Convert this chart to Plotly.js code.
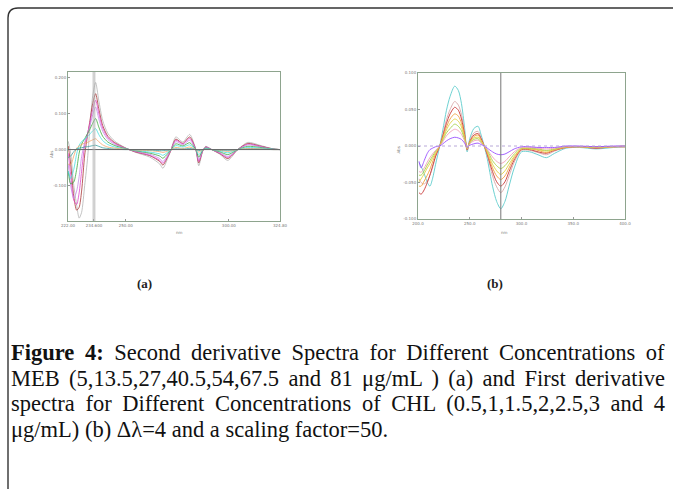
<!DOCTYPE html>
<html>
<head>
<meta charset="utf-8">
<script src="https://cdn.plot.ly/plotly-3.0.1.min.js"></script>
<style>
html,body{margin:0;padding:0;background:#fff;}
#plot{width:673px;height:489px;}
</style>
</head>
<body>
<div id="plot"></div>
<script>
// ---------- Panel (a): second derivative spectra of MEB ----------
const waveA = [222.1, 223.3, 224.8, 226.2, 227.4, 228.6, 230.1, 231.5, 232.5, 234.0, 235.4, 236.9, 238.8, 241.3, 244.7, 249.5, 254.4, 261.7, 266.5, 268.0, 270.4, 271.9, 274.3, 277.7, 281.0, 284.0, 285.4, 287.3, 288.8, 291.7, 295.6, 299.5, 304.3, 309.2, 315.0, 321.4, 324.8];
const curveA1 = [0.023, -0.010, -0.099, -0.154, -0.190, -0.174, -0.099, -0.024, 0.053, 0.150, 0.186, 0.137, 0.081, 0.045, 0.023, 0.006, -0.007, -0.021, -0.040, -0.052, -0.024, -0.002, 0.035, 0.021, 0.042, 0.000, -0.045, -0.005, 0.009, 0.000, -0.013, -0.030, 0.000, 0.020, 0.012, 0.002, 0.000];
const curveA2 = [0.010, -0.040, -0.130, -0.168, -0.160, -0.115, -0.015, 0.040, 0.075, 0.128, 0.155, 0.114, 0.067, 0.037, 0.019, 0.005, -0.006, -0.017, -0.033, -0.043, -0.020, -0.002, 0.029, 0.017, 0.035, 0.000, -0.037, -0.004, 0.007, 0.000, -0.011, -0.025, 0.000, 0.017, 0.010, 0.002, 0.000];
const curveA3 = [-0.010, -0.070, -0.140, -0.152, -0.120, -0.060, 0.012, 0.045, 0.070, 0.112, 0.137, 0.101, 0.060, 0.033, 0.017, 0.004, -0.005, -0.016, -0.030, -0.038, -0.018, -0.001, 0.026, 0.016, 0.031, 0.000, -0.033, -0.004, 0.007, 0.000, -0.010, -0.022, 0.000, 0.015, 0.009, 0.001, 0.000];
const curveA4 = [-0.040, -0.100, -0.135, -0.115, -0.075, -0.020, 0.020, 0.045, 0.062, 0.097, 0.118, 0.086, 0.051, 0.028, 0.014, 0.004, -0.004, -0.013, -0.025, -0.033, -0.015, -0.001, 0.022, 0.013, 0.026, 0.000, -0.028, -0.003, 0.006, 0.000, -0.008, -0.019, 0.000, 0.013, 0.008, 0.001, 0.000];
const curveA5 = [-0.060, -0.095, -0.090, -0.055, -0.010, 0.015, 0.030, 0.045, 0.055, 0.073, 0.086, 0.063, 0.037, 0.021, 0.011, 0.003, -0.003, -0.010, -0.018, -0.024, -0.011, -0.001, 0.016, 0.010, 0.019, 0.000, -0.021, -0.002, 0.004, 0.000, -0.006, -0.014, 0.000, 0.009, 0.006, 0.001, 0.000];
const curveA6 = [-0.060, -0.080, -0.055, -0.012, 0.012, 0.022, 0.030, 0.036, 0.042, 0.052, 0.058, 0.042, 0.025, 0.014, 0.007, 0.002, -0.002, -0.007, -0.012, -0.016, -0.007, -0.001, 0.011, 0.007, 0.013, 0.000, -0.014, -0.002, 0.003, 0.000, -0.004, -0.009, 0.000, 0.006, 0.004, 0.001, 0.000];
const curveA7 = [-0.040, -0.042, -0.018, 0.004, 0.010, 0.014, 0.018, 0.020, 0.023, 0.027, 0.030, 0.022, 0.013, 0.007, 0.004, 0.001, -0.001, -0.003, -0.006, -0.008, -0.004, 0.000, 0.006, 0.003, 0.007, 0.000, -0.007, -0.001, 0.001, 0.000, -0.002, -0.005, 0.000, 0.003, 0.002, 0.000, 0.000];
const curveA8 = [-0.022, -0.018, -0.006, 0.002, 0.004, 0.005, 0.007, 0.008, 0.009, 0.011, 0.012, 0.009, 0.005, 0.003, 0.001, 0.000, 0.000, -0.001, -0.003, -0.003, -0.002, 0.000, 0.002, 0.001, 0.003, 0.000, -0.003, 0.000, 0.001, 0.000, -0.001, -0.002, 0.000, 0.001, 0.001, 0.000, 0.000];
const colorsA = ['#b4b4b4', '#a83434', '#e046c8', '#c48ae6', '#3ea83e', '#46e0e0', '#f4a468', '#3aa0a0'];
const tickValsAx = [222, 234.6, 250, 300, 324.8];
const tickTextAx = ['222.00', '234.600', '250.00', '300.00', '324.80'];
const tickValsAy = [-0.2, -0.1, 0, 0.1, 0.2];
const tickTextAy = ['-0.200', '-0.100', '0.000', '0.100', '0.200'];
const cursorA = 234.6;

// ---------- Panel (b): first derivative spectra of CHL ----------
const waveB = [201, 203, 206, 209, 211.5, 214, 217, 221, 224, 227.5, 231, 235.5, 239, 242, 245, 247.5, 250, 254, 258, 261, 264, 267, 272, 276, 280, 284, 288, 293, 300, 308, 316, 324, 332, 343, 356, 372, 389, 400];
const curveB1 = [-0.023, -0.028, -0.038, -0.050, -0.055, -0.045, -0.025, 0.000, 0.022, 0.049, 0.068, 0.082, 0.076, 0.058, 0.025, -0.008, 0.010, 0.024, 0.027, 0.015, 0.000, -0.018, -0.055, -0.076, -0.086, -0.076, -0.055, -0.030, -0.008, -0.008, -0.012, -0.016, -0.010, -0.003, -0.002, -0.004, -0.002, -0.001];
const curveB2 = [-0.045, -0.050, -0.052, -0.048, -0.040, -0.030, -0.015, 0.000, 0.016, 0.036, 0.050, 0.061, 0.056, 0.043, 0.019, -0.006, 0.007, 0.018, 0.020, 0.011, 0.000, -0.013, -0.041, -0.056, -0.064, -0.056, -0.041, -0.022, -0.006, -0.006, -0.009, -0.012, -0.007, -0.002, -0.001, -0.003, -0.001, -0.001];
const curveB3 = [-0.064, -0.066, -0.060, -0.050, -0.040, -0.028, -0.014, 0.000, 0.014, 0.031, 0.044, 0.053, 0.049, 0.037, 0.016, -0.005, 0.006, 0.015, 0.017, 0.010, 0.000, -0.012, -0.035, -0.049, -0.055, -0.049, -0.035, -0.019, -0.005, -0.005, -0.008, -0.010, -0.006, -0.002, -0.001, -0.003, -0.001, -0.001];
const curveB4 = [-0.055, -0.055, -0.048, -0.040, -0.032, -0.022, -0.011, 0.000, 0.012, 0.026, 0.037, 0.044, 0.041, 0.031, 0.014, -0.004, 0.005, 0.013, 0.015, 0.008, 0.000, -0.010, -0.030, -0.041, -0.046, -0.041, -0.030, -0.016, -0.004, -0.004, -0.006, -0.009, -0.005, -0.002, -0.001, -0.002, -0.001, -0.001];
const curveB5 = [-0.049, -0.045, -0.038, -0.030, -0.024, -0.017, -0.009, 0.000, 0.010, 0.022, 0.031, 0.037, 0.034, 0.026, 0.011, -0.004, 0.005, 0.011, 0.012, 0.007, 0.000, -0.008, -0.025, -0.034, -0.039, -0.034, -0.025, -0.014, -0.004, -0.004, -0.005, -0.007, -0.005, -0.001, -0.001, -0.002, -0.001, 0.000];
const curveB6 = [-0.040, -0.040, -0.034, -0.026, -0.020, -0.014, -0.007, 0.000, 0.008, 0.018, 0.024, 0.030, 0.027, 0.021, 0.009, -0.003, 0.004, 0.009, 0.010, 0.005, 0.000, -0.006, -0.020, -0.027, -0.031, -0.027, -0.020, -0.011, -0.003, -0.003, -0.004, -0.006, -0.004, -0.001, -0.001, -0.001, -0.001, 0.000];
const curveB7 = [-0.035, -0.036, -0.030, -0.022, -0.016, -0.011, -0.006, 0.000, 0.006, 0.014, 0.019, 0.023, 0.021, 0.016, 0.007, -0.003, 0.003, 0.007, 0.008, 0.004, 0.000, -0.005, -0.015, -0.021, -0.024, -0.021, -0.015, -0.008, -0.002, -0.002, -0.003, -0.004, -0.003, -0.001, -0.001, -0.001, -0.001, 0.000];
const curveB8 = [-0.021, -0.030, -0.020, -0.010, -0.005, -0.003, -0.001, 0.000, 0.003, 0.007, 0.010, 0.012, 0.011, 0.009, 0.004, -0.002, 0.001, 0.003, 0.004, 0.002, 0.000, -0.003, -0.008, -0.011, -0.012, -0.011, -0.008, -0.004, -0.001, -0.001, -0.002, -0.002, -0.002, 0.000, 0.000, -0.001, 0.000, 0.000];
const colorsB = ['#5ccccc', '#d8a8a8', '#c83838', '#f0a040', '#e0d040', '#a8d048', '#f0a0b4', '#9a50ff'];
const tickValsBx = [200, 250, 300, 350, 400];
const tickTextBx = ['200.0', '250.0', '300.0', '350.0', '400.0'];
const tickValsBy = [-0.1, -0.05, 0, 0.05, 0.1];
const tickTextBy = ['-0.100', '-0.050', '0.000', '0.050', '0.100'];
const cursorB = 280;

// ---------- Caption ----------
const panelLabels = ['(a)', '(b)'];
const captionLines = [
  '<b>Figure 4:</b> Second derivative Spectra for Different Concentrations of',
  'MEB (5,13.5,27,40.5,54,67.5 and 81 μg/mL ) (a) and First derivative',
  'spectra for Different Concentrations of CHL (0.5,1,1.5,2,2.5,3 and 4',
  'μg/mL) (b) Δλ=4 and a scaling factor=50.'
];

// ---------- Build ----------
const W = 673, H = 489;
const px = v => v / W;
const py = v => 1 - v / H;

const curvesA = [curveA1, curveA2, curveA3, curveA4, curveA5, curveA6, curveA7, curveA8];
const curvesB = [curveB1, curveB2, curveB3, curveB4, curveB5, curveB6, curveB7, curveB8];
const traces = [];
curvesA.forEach((c, i) => traces.push({
  x: waveA, y: c, xaxis: 'x', yaxis: 'y', type: 'scatter', mode: 'lines',
  line: {color: colorsA[i], width: 0.8, shape: 'spline', smoothing: 0.7},
  hoverinfo: 'skip', showlegend: false
}));
curvesB.forEach((c, i) => traces.push({
  x: waveB, y: c, xaxis: 'x2', yaxis: 'y2', type: 'scatter', mode: 'lines',
  line: {color: colorsB[i], width: 0.9, shape: 'spline', smoothing: 0.8},
  hoverinfo: 'skip', showlegend: false
}));

const frame = '#8ea48e';
const tickFont = {family: 'DejaVu Sans', size: 4, color: '#777'};
const axisBase = {
  showgrid: false, zeroline: false, showline: true, mirror: true,
  linecolor: frame, linewidth: 1, ticks: 'inside', ticklen: 2, tickcolor: '#999',
  tickfont: tickFont, fixedrange: true
};
const capFont = {family: 'Liberation Serif, serif', size: 22.5, color: '#111'};

const annotations = [
  {xref: 'paper', yref: 'paper', x: px(135), y: py(283), text: '<b>' + panelLabels[0] + '</b>', showarrow: false,
   font: {family: 'Liberation Serif, serif', size: 13, color: '#222'}},
  {xref: 'paper', yref: 'paper', x: px(505), y: py(283), text: '<b>' + panelLabels[1] + '</b>', showarrow: false,
   font: {family: 'Liberation Serif, serif', size: 13, color: '#222'}},
  {xref: 'paper', yref: 'paper', x: px(47), y: py(149), text: 'Abs', textangle: -90, showarrow: false, font: tickFont},
  {xref: 'paper', yref: 'paper', x: px(174), y: py(232), text: 'nm', showarrow: false, font: tickFont},
  {xref: 'paper', yref: 'paper', x: px(398), y: py(145), text: 'Abs', textangle: -90, showarrow: false, font: tickFont},
  {xref: 'paper', yref: 'paper', x: px(510), y: py(232), text: 'nm', showarrow: false, font: tickFont}
];
const lineY = [352, 378, 403, 429];
captionLines.forEach((t, i) => annotations.push({
  xref: 'paper', yref: 'paper', x: px(9), y: py(lineY[i]), xanchor: 'left', yanchor: 'middle',
  text: t, showarrow: false, align: 'left', font: capFont
}));

const shapes = [
  // outer rounded frame
  {type: 'path', xref: 'paper', yref: 'paper', layer: 'above',
   path: `M ${px(8)},-0.02 L ${px(8)},${py(18)} Q ${px(8)},${py(8)} ${px(18)},${py(8)} L 1.02,${py(8)}`,
   line: {color: '#333', width: 1.4}},
  // panel a zero line & cursor
  {type: 'line', xref: 'x domain', yref: 'y', x0: 0, x1: 1, y0: 0, y1: 0, line: {color: '#666', width: 1}},
  {type: 'line', xref: 'x', yref: 'y domain', x0: cursorA - 0.4, x1: cursorA - 0.4, y0: 0, y1: 1, line: {color: '#aaa', width: 0.8}},
  {type: 'line', xref: 'x', yref: 'y domain', x0: cursorA + 0.4, x1: cursorA + 0.4, y0: 0, y1: 1, line: {color: '#aaa', width: 0.8}},
  // panel b zero line & cursor
  {type: 'line', xref: 'x2 domain', yref: 'y2', x0: 0, x1: 1, y0: 0, y1: 0, line: {color: '#b8a8d8', width: 1, dash: 'dot'}},
  {type: 'line', xref: 'x2', yref: 'y2 domain', x0: cursorB, x1: cursorB, y0: 0, y1: 1, line: {color: '#777', width: 1}}
];

const layout = {
  width: W, height: H,
  margin: {l: 0, r: 0, t: 0, b: 0},
  paper_bgcolor: '#fff', plot_bgcolor: '#fff',
  showlegend: false,
  xaxis: Object.assign({}, axisBase, {domain: [px(68), px(280)], range: [222, 324.8], tickvals: tickValsAx, ticktext: tickTextAx, anchor: 'y'}),
  yaxis: Object.assign({}, axisBase, {domain: [py(221), py(72)], range: [-0.198, 0.215], tickvals: tickValsAy, ticktext: tickTextAy, anchor: 'x'}),
  xaxis2: Object.assign({}, axisBase, {domain: [px(418), px(625)], range: [200, 400], tickvals: tickValsBx, ticktext: tickTextBx, anchor: 'y2'}),
  yaxis2: Object.assign({}, axisBase, {domain: [py(219), py(73)], range: [-0.1, 0.1], tickvals: tickValsBy, ticktext: tickTextBy, anchor: 'x2'}),
  annotations: annotations,
  shapes: shapes
};

const gd = document.getElementById('plot');
Plotly.newPlot(gd, traces, layout, {staticPlot: true, displayModeBar: false}).then(() => {
  // justify the first three caption lines to the right margin
  const groups = gd.querySelectorAll('.annotation');
  const firstCaption = 6;
  for (let k = 0; k < 3; k++) {
    const g = groups[firstCaption + k];
    if (!g) continue;
    const t = g.querySelector('.annotation-text');
    if (!t) continue;
    const r0 = t.getBoundingClientRect();
    const spaces = (t.textContent.match(/ /g) || []).length;
    const target = 665 - r0.left;
    if (spaces > 0) {
      t.style.wordSpacing = ((target - r0.width) / spaces) + 'px';
      const r1 = t.getBoundingClientRect();
      const old = t.getAttribute('transform') || '';
      t.setAttribute('transform', old + ` translate(${r0.left - r1.left},0)`);
    }
  }
});
</script>
</body>
</html>
